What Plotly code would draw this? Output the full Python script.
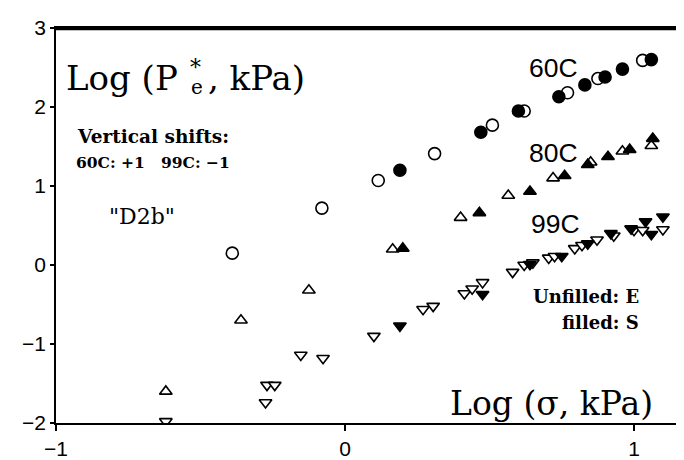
import plotly.graph_objects as go

# ---- data ----
x60_E = [-0.39, -0.08, 0.115, 0.31, 0.51, 0.62, 0.77, 0.875, 1.03]
y60_E = [0.15, 0.72, 1.07, 1.41, 1.77, 1.95, 2.18, 2.36, 2.59]
x60_S = [0.19, 0.47, 0.60, 0.74, 0.83, 0.90, 0.96, 1.06]
y60_S = [1.20, 1.68, 1.95, 2.13, 2.28, 2.38, 2.48, 2.60]

x80_E = [-0.62, -0.36, -0.125, 0.165, 0.40, 0.565, 0.72, 0.85, 0.96, 1.06]
y80_E = [-1.60, -0.70, -0.32, 0.20, 0.60, 0.88, 1.10, 1.30, 1.44, 1.51]
x80_S = [0.20, 0.465, 0.64, 0.76, 0.84, 0.91, 0.985, 1.065]
y80_S = [0.21, 0.66, 0.93, 1.13, 1.27, 1.37, 1.46, 1.60]

x99_E = [-0.62, -0.275, -0.27, -0.243, -0.153, -0.076, 0.10, 0.27, 0.305, 0.413,
         0.44, 0.476, 0.58, 0.62, 0.65, 0.705, 0.725, 0.795, 0.82, 0.872,
         0.93, 1.0, 1.03, 1.10]
y99_E = [-1.98, -1.74, -1.52, -1.52, -1.14, -1.18, -0.90, -0.56, -0.52, -0.36,
         -0.30, -0.22, -0.09, 0.0, 0.03, 0.09, 0.11, 0.21, 0.25, 0.32,
         0.37, 0.44, 0.44, 0.45]
x99_S = [0.19, 0.476, 0.64, 0.75, 0.84, 0.92, 0.99, 1.04, 1.06, 1.10]
y99_S = [-0.77, -0.37, 0.01, 0.11, 0.27, 0.40, 0.46, 0.55, 0.39, 0.61]

x_ticks = [-1, 0, 1]
y_ticks = [-2, -1, 0, 1, 2, 3]

# ---- layout geometry (page has an 8px body margin) ----
W, H = 684, 460
OFF = 8
ML, MR, MT, MB = 56 - OFF, OFF, 17 - OFF, 37 + OFF
PW = W - ML - MR
PH = H - MT - MB


def px(xp):
    return (xp - OFF - ML) / PW


def py(yp):
    return (H - MB - (yp - OFF)) / PH


fig = go.Figure()


def add(xs, ys, symbol, filled, size=11):
    fig.add_trace(go.Scatter(
        x=xs, y=ys, mode="markers",
        marker=dict(symbol=symbol, size=size,
                    color="black" if filled else "white",
                    line=dict(color="black", width=1.6)),
        showlegend=False, hoverinfo="skip"))


add(x60_E, y60_E, "circle", False, 12)
add(x60_S, y60_S, "circle", True, 12)
add(x80_E, y80_E, "triangle-up", False)
add(x80_S, y80_S, "triangle-up", True)
add(x99_E, y99_E, "triangle-down", False)
add(x99_S, y99_S, "triangle-down", True)

serif = "DejaVu Serif"
sans = "Liberation Sans"


def ann(text, x, y, size, family=serif, xanchor="left", bold=False):
    if bold:
        text = "<b>" + text + "</b>"
    fig.add_annotation(text=text, x=px(x), y=py(y), xref="paper", yref="paper",
                       xanchor=xanchor, yanchor="middle", showarrow=False,
                       font=dict(family=family, size=size, color="black"))


ann("Log (P", 64, 68, 34)
ann("*", 188, 58, 22)
ann("e", 189, 78, 20)
ann(", kPa)", 206, 68, 34)
ann("Vertical shifts:", 75, 129, 18.5, bold=True)
ann("60C: +1&nbsp;&nbsp;&nbsp;99C: \u22121", 74, 155, 15.5, bold=True)
ann('"D2b"', 107, 211, 22)
ann("60C", 527, 58, 26.5, family=sans)
ann("80C", 527, 145, 26.5, family=sans)
ann("99C", 529, 218, 26.5, family=sans)
ann("Unfilled: E", 641, 293, 18, xanchor="right", bold=True)
ann("filled: S", 641, 320, 18, xanchor="right", bold=True)
ann("Log (\u03c3, kPa)", 655, 403, 33, xanchor="right")

# top frame line, drawn just inside the plot area
fig.add_shape(type="line", xref="paper", yref="paper", x0=0, x1=1,
              y0=0.997, y1=0.997, layer="above",
              line=dict(color="black", width=2.2))

fig.update_xaxes(range=[-1, 1.173], tickvals=x_ticks, ticks="outside", ticklen=6,
                 tickwidth=1.5, tickcolor="black", showline=True, linewidth=1.6,
                 linecolor="black", mirror=True, showgrid=False, zeroline=False,
                 ticklabeloverflow="allow",
                 tickfont=dict(family=sans, size=21, color="black"))
fig.update_yaxes(range=[-2, 3], tickvals=y_ticks, ticks="outside", ticklen=4,
                 tickwidth=1.5, tickcolor="black", showline=True, linewidth=1.6,
                 linecolor="black", mirror=False, showgrid=False, zeroline=False,
                 ticklabeloverflow="allow",
                 tickfont=dict(family=sans, size=21, color="black"))

fig.update_layout(width=W, height=H, margin=dict(l=ML, r=MR, t=MT, b=MB),
                  paper_bgcolor="white", plot_bgcolor="white")

fig.write_html("out.html")
